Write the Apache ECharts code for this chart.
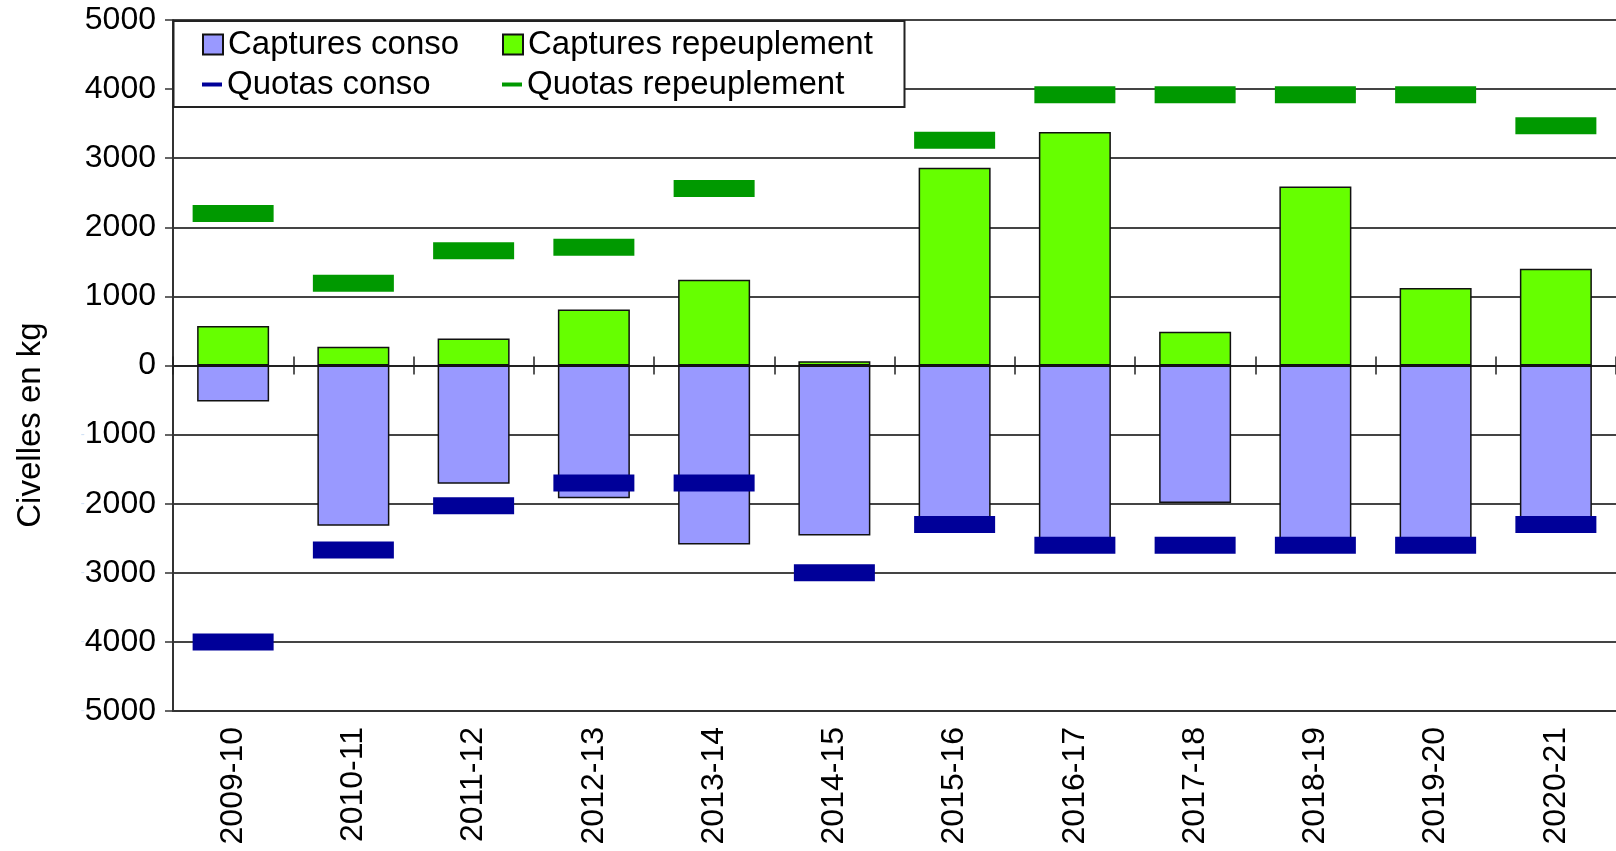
<!DOCTYPE html>
<html>
<head>
<meta charset="utf-8">
<title>Civelles</title>
<script src="https://cdn.jsdelivr.net/npm/echarts/dist/echarts.min.js"></script>
<style>
  html, body { margin: 0; padding: 0; background: #fff; }
  #main { width: 1616px; height: 851px; }
</style>
</head>
<body>
<div id="main"></div>
<script>
// saisons
var categories = ['2009-10', '2010-11', '2011-12', '2012-13', '2013-14', '2014-15',
	'2015-16', '2016-17', '2017-18', '2018-19', '2019-20', '2020-21'];

// captures (kg), conso en negatif
var capturesConso = [-520, -2320, -1710, -1920, -2590, -2460, -2250, -2550, -1990, -2550, -2550, -2230];
var capturesRepeuplement = [570, 270, 390, 810, 1240, 60, 2860, 3380, 490, 2590, 1120, 1400];

// quotas (kg)
var quotasConso = [-4000, -2670, -2030, -1700, -1700, -3000, -2300, -2600, -2600, -2600, -2600, -2300];
var quotasRepeuplement = [2200, 1190, 1660, 1710, 2560, null, 3260, 3920, 3920, 3920, 3920, 3470];

var font = 'Liberation Sans, Arial, sans-serif';
var fs = 32;

var gridTop = 20, gridBottom = 140;
// distance entre le bas de la grille et la ligne du zero
var zeroOffset = -(851 - gridBottom - gridTop) / 2;

var chart = echarts.init(document.getElementById('main'));

function legendItem(name, left, top, w, h) {
	return {
		data: [{ name: name, icon: 'rect' }],
		left: left,
		top: top,
		padding: 0,
		orient: 'horizontal',
		selectedMode: false,
		itemWidth: w,
		itemHeight: h,
		itemGap: 0,
		z: 20,
		textStyle: { fontFamily: font, fontSize: 33, color: '#000' }
	};
}

var option = {
	animation: false,
	backgroundColor: '#fff',
	grid: {
		left: 173,
		top: gridTop,
		width: 1453,
		bottom: gridBottom,
		containLabel: false
	},
	graphic: [
		{
			type: 'rect',
			z: 10,
			shape: { x: 173.5, y: 21, width: 731, height: 86 },
			style: { fill: '#fff', stroke: '#222', lineWidth: 2 }
		},
		{
			type: 'text',
			x: 31,
			y: 425,
			rotation: Math.PI / 2,
			style: {
				text: 'Civelles en kg',
				fontFamily: font,
				fontSize: 33,
				fill: '#000',
				align: 'center',
				verticalAlign: 'middle'
			}
		}
	],
	legend: [
		legendItem('Captures conso', 202, 28, 20, 20),
		legendItem('Captures repeuplement', 502, 28, 20, 20),
		legendItem('Quotas conso', 202, 68, 20, 4),
		legendItem('Quotas repeuplement', 502, 68, 20, 4)
	],
	xAxis: [
		{
			// axe du bas avec les libelles
			type: 'category',
			data: categories,
			position: 'bottom',
			axisLine: { onZero: false, lineStyle: { color: '#333', width: 2 } },
			axisTick: { show: false },
			axisLabel: {
				rotate: 90,
				margin: 16,
				fontFamily: font,
				fontSize: fs,
				color: '#000'
			},
			splitLine: { show: false }
		},
		{
			// ligne du zero, graduations vers le bas
			type: 'category',
			data: categories,
			position: 'bottom',
			axisLine: { onZero: true, lineStyle: { color: '#222', width: 2 } },
			axisTick: { show: true, length: 9, lineStyle: { color: '#222', width: 1.5 } },
			axisLabel: { show: false },
			splitLine: { show: false }
		},
		{
			// graduations vers le haut, sur la ligne du zero
			type: 'category',
			data: categories,
			position: 'bottom',
			offset: zeroOffset,
			axisLine: { show: false, onZero: false },
			axisTick: { show: true, inside: true, length: 9, lineStyle: { color: '#222', width: 1.5 } },
			axisLabel: { show: false },
			splitLine: { show: false }
		}
	],
	yAxis: {
		type: 'value',
		min: -5000,
		max: 5000,
		interval: 1000,
		axisLine: { show: true, lineStyle: { color: '#333', width: 2 } },
		axisTick: { show: true, length: 8, lineStyle: { color: '#333', width: 1.5 } },
		axisLabel: {
			margin: 17,
			fontFamily: font,
			fontSize: fs,
			color: '#000',
			formatter: function (v) {
				if (v < 0) {
					return '{m|-}' + Math.abs(v);
				}
				return '' + v;
			},
			rich: {
				m: { color: '#cfe0f5', fontFamily: font, fontSize: 12 }
			}
		},
		splitLine: { show: true, lineStyle: { color: '#444', width: 2 } }
	},
	series: [
		{
			name: 'Captures conso',
			type: 'bar',
			data: capturesConso,
			barWidth: 72,
			barGap: '-100%',
			itemStyle: { color: '#9999ff', borderColor: '#111', borderWidth: 1.5 }
		},
		{
			name: 'Captures repeuplement',
			type: 'bar',
			data: capturesRepeuplement,
			barWidth: 72,
			barGap: '-100%',
			itemStyle: { color: '#66ff00', borderColor: '#111', borderWidth: 1.5 }
		},
		{
			name: 'Quotas conso',
			type: 'scatter',
			data: quotasConso,
			symbol: 'rect',
			symbolSize: [81, 17],
			z: 5,
			itemStyle: { color: '#000099', opacity: 1 }
		},
		{
			name: 'Quotas repeuplement',
			type: 'scatter',
			data: quotasRepeuplement,
			symbol: 'rect',
			symbolSize: [81, 17],
			z: 5,
			itemStyle: { color: '#009900', opacity: 1 }
		}
	]
};

chart.setOption(option);
</script>
</body>
</html>
